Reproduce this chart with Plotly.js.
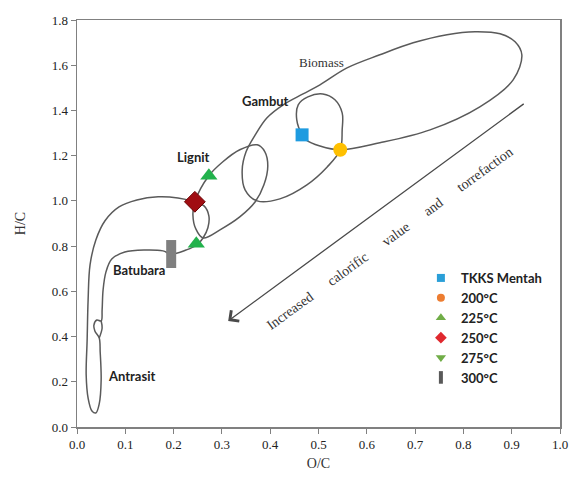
<!DOCTYPE html>
<html>
<head>
<meta charset="utf-8">
<script src="https://cdn.plot.ly/plotly-3.0.1.min.js"></script>
<style>html,body{margin:0;padding:0;background:#fff;}#chart{width:588px;height:495px;}</style>
</head>
<body>
<div id="chart"></div>
<script>
// ---- Region outlines (Van Krevelen loops) ----
// Biomass + Gambut loop (starts/ends at the raw TKKS point)
const biomassLoopX = [0.466,0.455,0.458,0.478,0.509,0.534,0.549,0.549,0.545,0.518,0.476,0.420,0.373,0.348,0.342,0.350,0.369,0.393,0.427,0.468,0.503,0.559,0.627,0.696,0.766,0.824,0.876,0.907,0.921,0.903,0.834,0.731,0.627,0.545,0.503,0.474,0.466];
const biomassLoopY = [1.292,1.358,1.425,1.460,1.473,1.447,1.389,1.314,1.226,1.150,1.071,1.009,1.000,1.049,1.137,1.217,1.292,1.367,1.425,1.473,1.513,1.588,1.646,1.699,1.735,1.748,1.739,1.704,1.646,1.535,1.416,1.314,1.257,1.226,1.243,1.270,1.292];
// Lignit loop
const lignitLoopX = [0.244,0.273,0.302,0.337,0.373,0.389,0.395,0.387,0.369,0.337,0.296,0.261,0.246,0.240,0.244];
const lignitLoopY = [0.996,1.111,1.173,1.226,1.248,1.217,1.155,1.071,0.996,0.929,0.872,0.836,0.876,0.938,0.996];
// Batubara + Antrasit loop (null separates the small curl arc)
const coalLoopX = [0.244,0.209,0.168,0.124,0.087,0.058,0.039,0.027,0.023,0.021,0.019,0.023,0.031,0.039,0.046,0.050,0.048,0.046,0.037,0.035,0.041,0.050,0.052,0.054,0.060,0.072,0.099,0.141,0.178,0.195,0.226,0.248,0.261,0.271,0.273,0.263,0.244,null,0.050,0.052,0.046];
const coalLoopY = [0.996,1.013,1.018,1.004,0.973,0.912,0.827,0.717,0.562,0.385,0.230,0.128,0.071,0.062,0.102,0.208,0.332,0.394,0.425,0.451,0.473,0.469,0.518,0.606,0.686,0.743,0.774,0.783,0.779,0.765,0.783,0.805,0.836,0.881,0.934,0.978,0.996,null,0.469,0.438,0.394];

// ---- Sample points ----
const sampleNames = ['TKKS Mentah','200°C','225°C','250°C','275°C','300°C'];
const sampleX = [0.466, 0.545, 0.273, 0.244, 0.247, 0.195];
const sampleY = [1.292, 1.226, 1.111, 0.996, 0.810, 0.765];

// ---- Region labels ----
const regionLabels = ['Biomass','Gambut','Lignit','Batubara','Antrasit'];
const regionLabelX = [0.507, 0.391, 0.242, 0.128, 0.112];
const regionLabelY = [1.611, 1.442, 1.195, 0.695, 0.226];

// ---- Trend arrow (tail -> head) and its caption ----
const arrowX = [0.928, 0.313];
const arrowY = [1.434, 0.469];
const arrowCaption = 'Increased\u00a0\u00a0\u00a0\u00a0\u00a0 calorific\u00a0\u00a0\u00a0\u00a0\u00a0 value\u00a0\u00a0\u00a0\u00a0\u00a0 and\u00a0\u00a0\u00a0\u00a0\u00a0 torrefaction';
const captionX = [0.648];
const captionY = [0.832];

// ---- Axis ticks ----
const xTicks = [0,0.1,0.2,0.3,0.4,0.5,0.6,0.7,0.8,0.9,1.0];
const yTicks = [0,0.2,0.4,0.6,0.8,1.0,1.2,1.4,1.6,1.8];

const SERIF = 'Liberation Serif, Times New Roman, serif';
const SANS = 'Lato, Carlito, Open Sans, sans-serif';
const lineStyle = {shape:'spline', smoothing:1, color:'#5a5a5a', width:1.5};

const plotStyles = [
  {symbol:'square', size:13, color:'#1E9BE0', line:{width:0}},
  {symbol:'circle', size:14, color:'#FFC000', line:{width:0}},
  {symbol:'triangle-up', size:15, color:'#22B24C', line:{width:0}},
  {symbol:'diamond', size:16, color:'#A00D12', line:{width:1, color:'#6a0000'}},
  {symbol:'triangle-up', size:15, color:'#22B24C', line:{width:0}},
  {symbol:'line-ns', size:20, color:'#7f7f7f', line:{width:10, color:'#7f7f7f'}}
];
const legendStyles = [
  {symbol:'square', size:8, color:'#2A9FD8', line:{width:0}},
  {symbol:'circle', size:8, color:'#ED7D31', line:{width:0}},
  {symbol:'triangle-up', size:9, color:'#70AD47', line:{width:0}},
  {symbol:'diamond', size:9, color:'#E0282E', line:{width:0}},
  {symbol:'triangle-down', size:9, color:'#70AD47', line:{width:0}},
  {symbol:'line-ns', size:9, color:'#595959', line:{width:4, color:'#595959'}}
];

const traces = [];
[[biomassLoopX, biomassLoopY],[lignitLoopX, lignitLoopY],[coalLoopX, coalLoopY]].forEach(function(p){
  traces.push({x:p[0], y:p[1], type:'scatter', mode:'lines', line:lineStyle, connectgaps:false, showlegend:false, hoverinfo:'skip'});
});
sampleNames.forEach(function(n,i){
  traces.push({x:[sampleX[i]], y:[sampleY[i]], type:'scatter', mode:'markers', marker:plotStyles[i], showlegend:false, hoverinfo:'skip', name:n});
});
sampleNames.forEach(function(n,i){
  traces.push({x:[null], y:[null], type:'scatter', mode:'markers', marker:legendStyles[i], showlegend:true, name:n, hoverinfo:'skip'});
});

const annotations = [];
regionLabels.forEach(function(t,i){
  const isSerif = (t === 'Biomass');
  annotations.push({x:regionLabelX[i], y:regionLabelY[i], xref:'x', yref:'y', text: isSerif ? t : '<b>'+t+'</b>', showarrow:false,
    font:{family: isSerif ? SERIF : SANS, size:13, color: isSerif ? '#333' : '#222'}});
});
annotations.push({x:arrowX[1], y:arrowY[1], ax:arrowX[0], ay:arrowY[0], xref:'x', yref:'y', axref:'x', ayref:'y', text:'',
  showarrow:true, arrowhead:4, arrowsize:2, arrowwidth:1.3, arrowcolor:'#4a4a4a'});
annotations.push({x:captionX[0], y:captionY[0], xref:'x', yref:'y', text:arrowCaption, showarrow:false, textangle:-36,
  font:{family:SERIF, size:14, color:'#333'}});

const axisCommon = {showgrid:false, zeroline:false, showline:true, linecolor:'#808080', linewidth:1.5, mirror:true,
  ticks:'outside', ticklen:5, tickcolor:'#808080', tickwidth:1, tickformat:'.1f', fixedrange:true,
  tickfont:{family:SERIF, size:13, color:'#222'}};

const layout = {
  width:588, height:495,
  margin:{l:77, r:28, t:20, b:68},
  paper_bgcolor:'#ffffff', plot_bgcolor:'#ffffff',
  showlegend:true,
  legend:{x:0.712, y:0.403, xanchor:'left', yanchor:'top', bgcolor:'rgba(0,0,0,0)', borderwidth:0,
    font:{family:SANS, size:13, color:'#222', weight:'bold'}, itemwidth:30, traceorder:'normal'},
  xaxis:Object.assign({}, axisCommon, {range:[0,1], tickvals:xTicks,
    title:{text:'O/C', font:{family:SERIF, size:14, color:'#333'}, standoff:7}}),
  yaxis:Object.assign({}, axisCommon, {range:[0,1.8], tickvals:yTicks,
    title:{text:'H/C', font:{family:SERIF, size:14, color:'#333'}, standoff:23}}),
  annotations:annotations
};

Plotly.newPlot('chart', traces, layout, {staticPlot:true, displayModeBar:false});
</script>
</body>
</html>
